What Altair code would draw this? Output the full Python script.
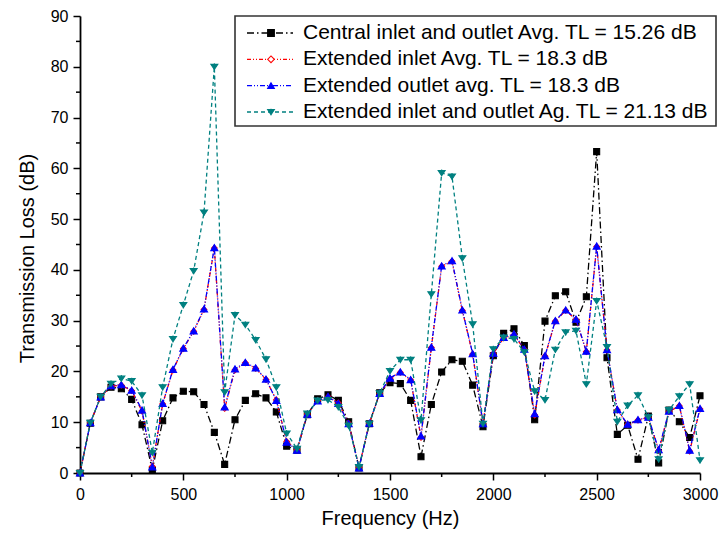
import altair as alt
import pandas as pd

freq = list(range(0, 3001, 50))

central = [0, 9.8, 15.0, 16.9, 16.6, 14.5, 9.5, 0.6, 10.3, 14.8,
           16.1, 16.0, 13.5, 8.0, 1.7, 10.5, 14.3, 15.6, 14.8, 12.0,
           5.3, 4.5, 11.5, 14.6, 15.4, 14.3, 10.1, 1.0, 9.7, 15.8,
           17.8, 17.6, 14.3, 3.2, 13.5, 19.9, 22.3, 22.0, 17.3, 9.1,
           23.1, 27.5, 28.4, 25.1, 10.5, 29.9, 34.9, 35.7, 29.7, 34.7,
           63.3, 22.7, 7.6, 9.4, 2.7, 11.2, 2.0, 12.4, 10.1, 7.0, 15.2]

ext_inlet = [0, 9.9, 15.0, 17.1, 17.3, 16.2, 12.2, 1.3, 13.6, 20.3,
             24.5, 27.9, 32.2, 44.3, 12.7, 20.3, 21.7, 20.6, 18.4, 14.4,
             6.2, 4.6, 11.6, 14.3, 15.0, 13.8, 9.8, 1.1, 9.8, 15.6,
             18.6, 19.8, 18.3, 7.0, 24.7, 40.7, 41.7, 32.0, 23.4, 9.8,
             23.5, 26.6, 27.2, 24.3, 11.4, 23.0, 29.9, 32.0, 30.2, 23.9,
             44.6, 24.2, 12.4, 9.5, 10.4, 11.0, 4.4, 12.1, 13.2, 4.3, 12.6]

ext_outlet = [0, 9.9, 15.0, 17.2, 17.4, 16.3, 12.4, 1.2, 13.7, 20.4,
              24.6, 28.0, 32.3, 44.4, 13.0, 20.5, 21.8, 20.7, 18.5, 14.3,
              6.1, 4.5, 11.6, 14.2, 15.1, 13.7, 9.7, 1.0, 9.8, 15.7,
              18.7, 19.9, 18.4, 7.3, 24.8, 40.8, 41.8, 32.1, 23.5, 9.7,
              23.6, 26.7, 27.4, 24.4, 11.7, 23.1, 30.0, 32.1, 30.3, 24.0,
              44.7, 24.3, 12.5, 9.6, 10.5, 11.0, 4.6, 12.2, 13.3, 4.5, 12.7]

ext_both = [0, 9.9, 15.0, 17.6, 18.6, 18.1, 15.3, 4.0, 16.9, 26.4,
            33.1, 39.8, 51.3, 80.0, 15.9, 31.1, 29.2, 26.2, 22.4, 16.9,
            7.8, 4.8, 11.7, 14.3, 14.4, 13.0, 9.3, 1.2, 9.7, 15.7,
            20.1, 22.3, 22.3, 10.4, 35.2, 59.1, 58.4, 42.3, 29.3, 9.7,
            24.4, 26.7, 26.4, 23.8, 16.1, 14.4, 24.3, 27.7, 28.0, 17.5,
            33.9, 24.8, 10.1, 13.3, 15.3, 11.0, 2.7, 12.4, 15.1, 17.5, 2.5]

names = ["Central inlet and outlet Avg. TL = 15.26 dB",
         "Extended inlet Avg. TL = 18.3 dB",
         "Extended outlet avg. TL = 18.3 dB",
         "Extended inlet and outlet Ag. TL = 21.13 dB"]
series_values = [central, ext_inlet, ext_outlet, ext_both]

x_ticks = [0, 500, 1000, 1500, 2000, 2500, 3000]
x_minor = [250, 750, 1250, 1750, 2250, 2750]
y_ticks = [0, 10, 20, 30, 40, 50, 60, 70, 80, 90]
y_minor = [5, 15, 25, 35, 45, 55, 65, 75, 85]

colors = ["#000000", "#ff0000", "#0000ff", "#008080"]
fills = ["#000000", "#ffffff", "#0000ff", "#008080"]
dashes = [[7, 3, 1.5, 3], [4, 2, 1, 2, 1, 2], [5, 2, 1, 2, 1, 2], [4, 3]]
teal_marker = "M-1,-0.7L1,-0.7L0,0.8Z M0,-1L0,1"
shapes = ["square", "diamond", "triangle-up", teal_marker]
sizes = [36, 32, 50, 48]

rows = []
for name, vals in zip(names, series_values):
    for f, v in zip(freq, vals):
        rows.append({"series": name, "f": f, "tl": v})
df = pd.DataFrame(rows)

FONT = "Liberation Sans"
H = 457
xs = alt.Scale(domain=[0, 3000], nice=False, zero=False)
ys = alt.Scale(domain=[0, 90], nice=False)

xaxis = alt.Axis(values=x_ticks, format="d", title="Frequency (Hz)", grid=False, tickSize=7,
                 tickWidth=1.5, tickColor="black", domainColor="black", domainWidth=1.8,
                 labelFontSize=16, labelFont=FONT, labelColor="black", labelPadding=6,
                 labelFlush=False, titleFont=FONT, titleFontSize=20, titleFontWeight="normal",
                 titleColor="black", titleY=51, titleBaseline="alphabetic")
yaxis = alt.Axis(values=y_ticks, format="d", title="Transmission Loss (dB)", grid=False, tickSize=7,
                 tickWidth=1.5, tickColor="black", domainColor="black", domainWidth=1.8,
                 labelFontSize=16, labelFont=FONT, labelColor="black", labelPadding=5,
                 labelFlush=False, titleFont=FONT, titleFontSize=20, titleFontWeight="normal",
                 titleColor="black", titleX=-47, titleY=242, titleBaseline="alphabetic")

main_layers = []
for i, name in enumerate(names):
    base = alt.Chart(df).transform_filter(alt.datum.series == name)
    enc = dict(x=alt.X("f:Q", scale=xs, axis=xaxis), y=alt.Y("tl:Q", scale=ys, axis=yaxis))
    line = base.mark_line(color=colors[i], strokeDash=dashes[i], strokeWidth=1.3).encode(**enc)
    pts = base.mark_point(shape=shapes[i], color=colors[i], stroke=colors[i], fill=fills[i],
                          filled=True, opacity=1, strokeWidth=1.1, size=sizes[i]).encode(**enc)
    main_layers += [line, pts]

ymin_rule = alt.Chart(pd.DataFrame({"v": y_minor})).mark_rule(color="black", strokeWidth=1.5).encode(
    y=alt.Y("v:Q", scale=ys, axis=yaxis), x=alt.value(-4), x2=alt.value(0))
xmin_rule = alt.Chart(pd.DataFrame({"v": x_minor})).mark_rule(color="black", strokeWidth=1.5).encode(
    x=alt.X("v:Q", scale=xs, axis=xaxis), y=alt.value(H), y2=alt.value(H + 4))

main = alt.layer(*main_layers, ymin_rule, xmin_rule)

leg_df = pd.DataFrame({"series": names})
ly = alt.Y("series:N", scale=alt.Scale(type="point", domain=names, range=[17, 96], padding=0), axis=None)

box = alt.Chart(pd.DataFrame({"a": [0]})).mark_rect(fill="white", stroke="#333333", strokeWidth=1.6).encode(
    x=alt.value(155), x2=alt.value(636), y=alt.value(0), y2=alt.value(110))
leg_line = alt.Chart(leg_df).mark_rule(strokeWidth=1.3).encode(
    x=alt.value(167), x2=alt.value(213), y=ly,
    color=alt.Color("series:N", scale=alt.Scale(domain=names, range=colors), legend=None),
    strokeDash=alt.StrokeDash("series:N", scale=alt.Scale(domain=names, range=dashes), legend=None))
leg_pts = alt.Chart(leg_df).mark_point(opacity=1, strokeWidth=1.1, size=45).encode(
    x=alt.value(191), y=ly,
    shape=alt.Shape("series:N", scale=alt.Scale(domain=names, range=shapes), legend=None),
    stroke=alt.Stroke("series:N", scale=alt.Scale(domain=names, range=colors), legend=None),
    fill=alt.Fill("series:N", scale=alt.Scale(domain=names, range=fills), legend=None))
leg_text = alt.Chart(leg_df).mark_text(align="left", baseline="middle", fontSize=21, font=FONT,
                                       color="black").encode(x=alt.value(223), y=ly, text="series:N")
legend = alt.layer(box, leg_line, leg_pts, leg_text)

chart = alt.layer(main, legend).resolve_scale(y="independent").properties(
    width=620, height=H,
    padding={"left": 72, "top": 8, "right": 19, "bottom": 58},
    autosize=alt.AutoSizeParams(type="none"),
).configure_view(stroke=None)

chart.save("out.html", embed_options={"renderer": "svg", "actions": False})
